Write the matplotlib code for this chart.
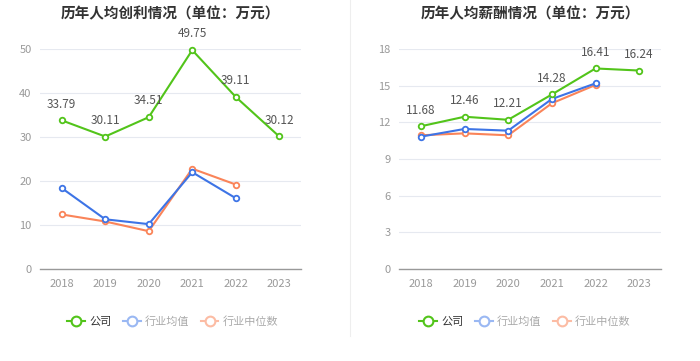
import matplotlib
matplotlib.use("Agg")
import matplotlib.pyplot as plt
from matplotlib.lines import Line2D

plt.rcParams['font.family'] = ['Noto Sans CJK SC', 'DejaVu Sans']

years = ['2018', '2019', '2020', '2021', '2022', '2023']

profit_company = [33.79, 30.11, 34.51, 49.75, 39.11, 30.12]
profit_mean = [18.4, 11.3, 10.2, 22.0, 16.1]
profit_median = [12.4, 10.8, 8.6, 22.8, 19.2]

salary_company = [11.68, 12.46, 12.21, 14.28, 16.41, 16.24]
salary_mean = [10.83, 11.46, 11.32, 13.91, 15.19]
salary_median = [10.94, 11.10, 10.94, 13.56, 15.06]

series_names = ['公司', '行业均值', '行业中位数']
titles = ['历年人均创利情况（单位：万元）', '历年人均薪酬情况（单位：万元）']

GREEN = '#52c41a'
BLUE = '#3d74e6'
ORANGE = '#fa8459'
LEG_BLUE = '#9ab8f3'
LEG_ORANGE = '#fcbca4'

fig = plt.figure(figsize=(7.0, 3.61), dpi=100)

def draw(rect, comp, mean, med, ymax, ystep, title, legend_cx):
    ax = fig.add_axes(rect)
    x = list(range(len(years)))
    for vals, c, z in [(mean, BLUE, 3), (med, ORANGE, 2), (comp, GREEN, 4)]:
        ax.plot(x[:len(vals)], vals, color=c, lw=1.5, marker='o', ms=4,
                mfc='white', mec=c, mew=1.3, zorder=z, clip_on=False)
    for xi, v in zip(x, comp):
        ax.annotate(f'{v:.2f}', (xi, v), xytext=(0, 7), textcoords='offset points',
                    ha='center', va='bottom', fontsize=8.5, color='#555555', zorder=6)
    ax.set_xlim(-0.5, len(years) - 0.5)
    ax.set_ylim(0, ymax)
    ax.set_yticks(range(0, ymax + 1, ystep))
    ax.set_xticks(x)
    ax.set_xticklabels(years)
    ax.tick_params(axis='both', colors='#999999', labelsize=8, length=0, pad=6)
    ax.tick_params(axis='x', pad=7)
    ax.grid(axis='y', color='#e6e9f0', lw=0.8)
    ax.set_axisbelow(True)
    for s in ['top', 'right', 'left']:
        ax.spines[s].set_visible(False)
    ax.spines['bottom'].set_color('#999999')
    ax.spines['bottom'].set_linewidth(1.0)
    cx = rect[0] + rect[2] / 2
    fig.text(cx, 0.963, title, ha='center', va='center', fontsize=10.5,
             fontweight='bold', color='#333333')
    handles = [
        Line2D([], [], color=GREEN, lw=1.5, marker='o', ms=7, mfc='white', mec=GREEN, mew=1.5),
        Line2D([], [], color=LEG_BLUE, lw=1.5, marker='o', ms=7, mfc='white', mec=LEG_BLUE, mew=1.5),
        Line2D([], [], color=LEG_ORANGE, lw=1.5, marker='o', ms=7, mfc='white', mec=LEG_ORANGE, mew=1.5),
    ]
    leg = fig.legend(handles, series_names, loc='center', bbox_to_anchor=(legend_cx, 0.108),
                     ncol=3, frameon=False, fontsize=8, handlelength=1.6, handletextpad=0.4,
                     columnspacing=1.0)
    for t, c in zip(leg.get_texts(), ['#333333', '#aaaaaa', '#aaaaaa']):
        t.set_color(c)
    return ax

draw([0.0571, 0.2548, 0.3729, 0.6094], profit_company, profit_mean, profit_median,
     50, 10, titles[0], 0.247)
draw([0.570, 0.2548, 0.3743, 0.6094], salary_company, salary_mean, salary_median,
     18, 3, titles[1], 0.75)

fig.add_artist(Line2D([0.5, 0.5], [0.07, 1.0], color='#eeeeee', lw=0.8, transform=fig.transFigure))

fig.savefig('out.png', dpi=100)
